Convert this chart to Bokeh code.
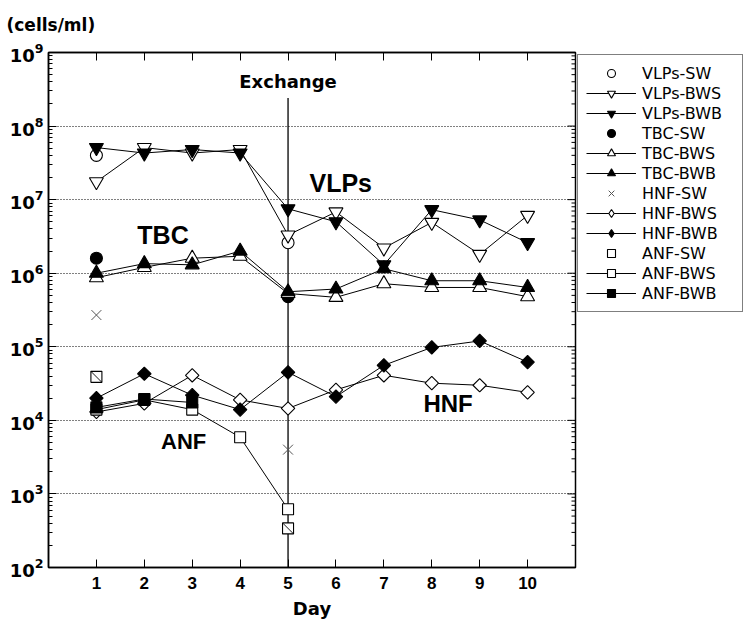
import numpy as np
from bokeh.plotting import figure
from bokeh.models import (Range1d, LinearAxis, FixedTicker, Legend,
                          LegendItem, Label, CustomJSTickFormatter)
from bokeh.embed import file_html
from bokeh.resources import INLINE

# ---------------- data (cells/ml) ----------------
days = [1, 2, 3, 4, 5, 6, 7, 8, 9, 10]
sw_days = [1, 5]
day_labels = ["1", "2", "3", "4", "5", "6", "7", "8", "9", "10"]

vlps_sw = [4.0e7, 2.6e6]
vlps_bws = [1.75e7, 5.1e7, 4.3e7, 4.8e7, 3.3e6, 6.8e6, 2.2e6, 4.9e6, 1.8e6, 6.1e6]
vlps_bwb = [5.1e7, 4.3e7, 4.8e7, 4.3e7, 7.5e6, 5.0e6, 1.3e6, 7.3e6, 5.3e6, 2.6e6]

tbc_sw = [1.6e6, 4.8e5]
tbc_bws = [8.7e5, 1.2e6, 1.6e6, 1.7e6, 5.3e5, 4.7e5, 7.2e5, 6.4e5, 6.4e5, 4.8e5]
tbc_bwb = [1.0e6, 1.35e6, 1.3e6, 2.0e6, 5.6e5, 6.1e5, 1.15e6, 7.9e5, 7.9e5, 6.4e5]

hnf_sw = [2.7e5, 4.0e3]
hnf_bws = [1.3e4, 1.7e4, 4.1e4, 1.9e4, 1.45e4, 2.6e4, 4.1e4, 3.2e4, 3.0e4, 2.4e4]
hnf_bwb = [2.0e4, 4.3e4, 2.2e4, 1.4e4, 4.5e4, 2.1e4, 5.6e4, 9.8e4, 1.2e5, 6.2e4]

anf_sw = [3.9e4, 3.4e2]
anf_bws_days = [1, 2, 3, 4, 5]
anf_bws = [1.4e4, 1.9e4, 1.4e4, 5.9e3, 6.2e2]
anf_bwb_days = [1, 2, 3]
anf_bwb = [1.5e4, 1.95e4, 1.75e4]

exchange_day = 5
decades = [1e2, 1e3, 1e4, 1e5, 1e6, 1e7, 1e8, 1e9]

# ---------------- figure ----------------
X_MIN, X_MAX = 0, 11
FRAME_W, FRAME_H = 527, 515
p = figure(frame_width=FRAME_W, frame_height=FRAME_H,
           x_range=Range1d(X_MIN, X_MAX), y_range=Range1d(decades[0], decades[-1]),
           y_axis_type="log", output_backend="svg", toolbar_location=None,
           min_border_left=48, min_border_top=52, min_border_bottom=44,
           min_border_right=0, title="(cells/ml)")
p.outline_line_color = "black"
p.outline_line_width = 1.5
p.background_fill_color = "white"
p.border_fill_color = "white"
p.title.text_font = "DejaVu Sans"
p.title.text_font_style = "bold"
p.title.text_font_size = "17px"
p.title.text_color = "black"
p.title.align = "left"
p.title.offset = -42
p.title.standoff = 18

minors = [m * d for d in decades[:-1] for m in range(2, 10)]
yticker = FixedTicker(ticks=decades, minor_ticks=minors)
xticker = FixedTicker(ticks=days)

p.xaxis.ticker = xticker
p.xaxis.major_label_overrides = {d: l for d, l in zip(days, day_labels)}
p.yaxis.ticker = yticker

for ax in [p.xaxis[0], p.yaxis[0]]:
    ax.axis_line_color = "black"
    ax.axis_line_width = 1.5
    ax.major_tick_line_color = "black"
    ax.minor_tick_line_color = "black"
    ax.major_tick_in = 8
    ax.major_tick_out = 0
    ax.minor_tick_in = 4
    ax.minor_tick_out = 0
    ax.major_label_text_color = "black"
    ax.major_label_text_font_style = "bold"

p.xaxis.major_label_text_font = "Liberation Sans"
p.xaxis.major_label_text_font_size = "17px"
p.xaxis.major_label_standoff = 9
p.xaxis.axis_label = "Day"
p.xaxis.axis_label_text_font = "DejaVu Sans"
p.xaxis.axis_label_text_font_style = "bold"
p.xaxis.axis_label_text_font_size = "18px"
p.xaxis.axis_label_text_color = "black"
p.xaxis.axis_label_standoff = 6

p.yaxis.major_label_text_font = "DejaVu Sans"
p.yaxis.major_label_text_font_size = "18px"
p.yaxis.major_label_standoff = 5

p.xgrid.visible = False
p.ygrid.ticker = FixedTicker(ticks=decades[1:-1])
p.ygrid.grid_line_color = "black"
p.ygrid.grid_line_dash = "1 2"
p.ygrid.grid_line_width = 1

# top axis: inward ticks, no labels
blank = CustomJSTickFormatter(code="return ' '")
top_axis = LinearAxis(ticker=xticker, formatter=blank,
                      major_label_text_font_size="6px",
                      major_tick_in=8, major_tick_out=0, minor_tick_in=0,
                      minor_tick_out=0, axis_line_width=1.5,
                      major_label_standoff=0)
p.add_layout(top_axis, "above")

# right side inward ticks (from the same tick lists)
px_per_x = FRAME_W / (X_MAX - X_MIN)
p.segment(x0=[X_MAX] * len(decades), y0=decades,
          x1=[X_MAX - 8 / px_per_x] * len(decades), y1=decades,
          line_color="black", line_width=1)
p.segment(x0=[X_MAX] * len(minors), y0=minors,
          x1=[X_MAX - 4 / px_per_x] * len(minors), y1=minors,
          line_color="black", line_width=1)

# exchange line
p.segment(x0=[exchange_day], y0=[2.4e8], x1=[exchange_day], y1=[decades[0]],
          line_color="black", line_width=1.3)

# ---------------- series ----------------
series = [
    ("VLPs-SW", sw_days, vlps_sw, "circle", "white", 12, False),
    ("VLPs-BWS", days, vlps_bws, "inverted_triangle", "white", 14, True),
    ("VLPs-BWB", days, vlps_bwb, "inverted_triangle", "black", 14, True),
    ("TBC-SW", sw_days, tbc_sw, "circle", "black", 12, False),
    ("TBC-BWS", days, tbc_bws, "triangle", "white", 14, True),
    ("TBC-BWB", days, tbc_bwb, "triangle", "black", 14, True),
    ("HNF-SW", sw_days, hnf_sw, "x", None, 14, False),
    ("HNF-BWS", days, hnf_bws, "diamond", "white", 9.5, True),
    ("HNF-BWB", days, hnf_bwb, "diamond", "black", 9.5, True),
    ("ANF-SW", sw_days, anf_sw, "slashsq", "white", 11, False),
    ("ANF-BWS", anf_bws_days, anf_bws, "square", "white", 11, True),
    ("ANF-BWB", anf_bwb_days, anf_bwb, "square", "black", 11, True),
]

line_r = {}
for name, xs, ys, mk, fill, size, has_line in series:
    if has_line:
        line_r[name] = p.line(xs, ys, line_color="black", line_width=1)

items = []
for name, xs, ys, mk, fill, size, has_line in series:
    rs = []
    if has_line:
        rs.append(line_r[name])
    if mk == "x":
        rs.append(p.scatter(xs, ys, marker="x", size=size, line_color="#555555",
                            line_width=1))
    elif mk == "diamond":
        # plotted as a square turned 45 degrees; legend uses a diamond marker
        p.scatter(xs, ys, marker="square", angle=np.pi / 4, size=size,
                  fill_color=fill, line_color="black", line_width=1.1)
        rs.append(p.scatter(x=[np.nan], y=[np.nan], marker="diamond", size=size,
                            fill_color=fill, line_color="black", line_width=1.1))
    elif mk == "slashsq":
        rs.append(p.scatter(xs, ys, marker="square", size=size, fill_color=fill,
                            line_color="black", line_width=1.1))
        p.scatter(xs, ys, marker="dash", angle=-np.pi / 4, size=size * 1.35,
                  line_color="black", line_width=0.9)
    else:
        rs.append(p.scatter(xs, ys, marker=mk, size=size, fill_color=fill,
                            line_color="black", line_width=1.1))
    items.append(LegendItem(label=name, renderers=rs))

legend = Legend(items=items, location="top_left", orientation="vertical",
                label_text_font="DejaVu Sans", label_text_font_size="16px",
                label_text_color="black",
                glyph_width=50, glyph_height=20, label_height=20, spacing=0,
                padding=8, margin=2, label_standoff=6, label_width=92,
                border_line_color="black", border_line_width=1.5,
                background_fill_color="white", background_fill_alpha=1)
p.add_layout(legend, "right")

# ---------------- annotations ----------------
label_font = "Liberation Sans"
for txt, lx, ly, fnt, fs in [
    ("Exchange", exchange_day, 4.0e8, "DejaVu Sans", "18px"),
    ("VLPs", 6.1, 1.7e7, label_font, "25px"),
    ("TBC", 2.39, 3.3e6, label_font, "25px"),
    ("ANF", 2.82, 5.1e3, label_font, "22px"),
    ("HNF", 8.34, 1.72e4, label_font, "24px"),
]:
    p.add_layout(Label(x=lx, y=ly, text=txt, text_align="center",
                       text_baseline="middle", text_font=fnt, text_color="black",
                       text_font_style="bold", text_font_size=fs))

open("out.html", "w").write(file_html(p, INLINE))
